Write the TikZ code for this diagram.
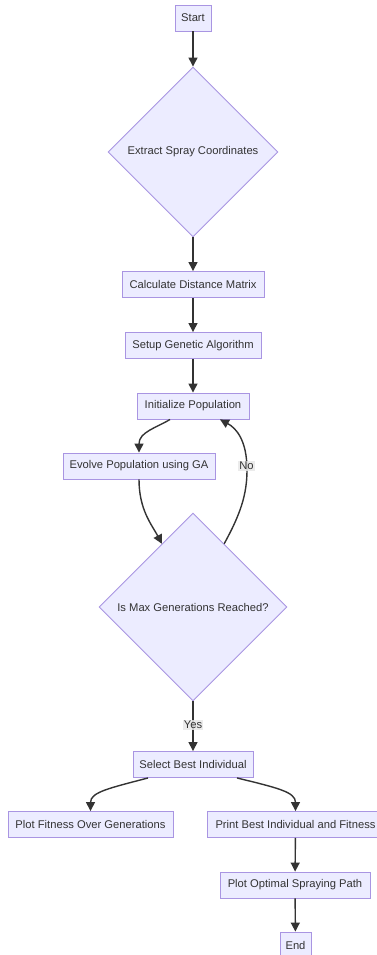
\documentclass[tikz,border=0pt]{standalone}
\usepackage{fontspec}
\setmainfont{Liberation Sans}
\usetikzlibrary{shapes.geometric,arrows.meta,calc}
\definecolor{nodefill}{HTML}{ECECFF}
\definecolor{nodeline}{HTML}{A995E2}
\definecolor{edgecol}{HTML}{333333}
\definecolor{lblbg}{HTML}{E8E8E8}
\tikzset{
  txt/.style={text=edgecol, font=\fontsize{11.2}{13}\selectfont},
  box/.style={txt, rectangle, draw=nodeline, fill=nodefill, line width=0.9pt, minimum height=26pt, inner sep=0pt},
  dia/.style={txt, diamond, draw=nodeline, fill=nodefill, line width=0.9pt, inner sep=0pt, aspect=1},
  flow/.style={draw=edgecol, line width=1.4pt, -{Triangle[length=9pt,width=9pt]}},
  lbl/.style={txt, fill=lblbg, fill opacity=0.85, text opacity=1, inner xsep=1pt, inner ysep=1.5pt}
}
\begin{document}
\begin{tikzpicture}[x=1pt,y=-1pt]
\useasboundingbox (0,0) rectangle (376,955);
\node[box, minimum width=36pt] (start) at (193,18) {Start};
\node[dia, minimum width=170pt, minimum height=170pt] (extract) at (193,152) {Extract Spray Coordinates};
\node[box, minimum width=142pt] (calc) at (193,284.5) {Calculate Distance Matrix};
\node[box, minimum width=136pt] (setup) at (193,345.5) {Setup Genetic Algorithm};
\node[box, minimum width=112pt] (init) at (193,406) {Initialize Population};
\node[box, minimum width=152pt] (evolve) at (139,466) {Evolve Population using GA};
\node[dia, minimum width=188pt, minimum height=188pt] (max) at (193,607) {Is Max Generations Reached?};
\node[box, minimum width=120pt] (select) at (193,764.5) {Select Best Individual};
\node[box, minimum width=165pt] (fit) at (90.5,824.5) {Plot Fitness Over Generations};
\node[box, minimum width=177pt] (print) at (295.5,824.5) {Print Best Individual and Fitness};
\node[box, minimum width=150pt] (opt) at (295,885) {Plot Optimal Spraying Path};
\node[box, minimum width=31pt] (end) at (295.5,945) {End};

\draw[flow] (start) -- (extract);
\draw[flow] (extract) -- (calc);
\draw[flow] (calc) -- (setup);
\draw[flow] (setup) -- (init);
\draw[flow] ($(init.south)+(-23,0)$) .. controls (156,428) and (139,432) .. (evolve.north);
\draw[flow] (evolve.south) .. controls (139,510) and (152,525) .. ($(max.north)!0.33!(max.west)$);
\draw[flow] ($(max.north)!0.33!(max.east)$) .. controls (240,515) and (247,495) .. (247,470)
  .. controls (247,440) and (236,428) .. ($(init.south)+(27,0)$);
\node[lbl] (no) at (246.5,466) {No};
\draw[flow] (max) -- (select);
\node[lbl] (yes) at (193,725) {Yes};
\draw[flow] ($(select.south)+(-45,0)$) .. controls (110,788) and (90.5,792) .. (fit.north);
\draw[flow] ($(select.south)+(44,0)$) .. controls (278,788) and (295.5,792) .. (print.north);
\draw[flow] (print) -- (opt);
\draw[flow] (opt) -- (end);
\end{tikzpicture}
\end{document}
